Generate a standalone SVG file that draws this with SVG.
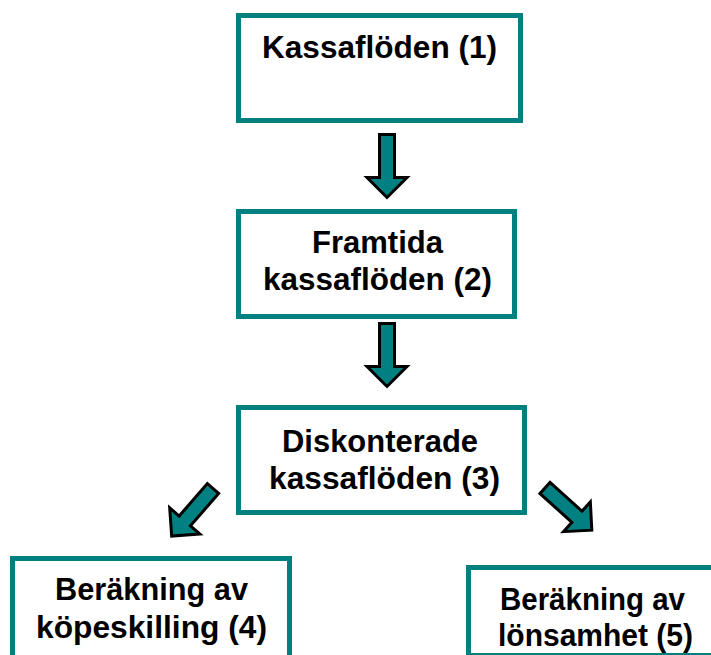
<svg xmlns="http://www.w3.org/2000/svg" width="711" height="655" viewBox="0 0 711 655">
<style>
.box{fill:#fff;stroke:#008080;stroke-width:5}
.t{font-family:"Liberation Sans",Arial,sans-serif;font-weight:bold;font-size:32px;fill:#000;text-anchor:middle}
.arr{fill:#008080;stroke:#000;stroke-width:3;stroke-linejoin:miter}
</style>
<defs>
<path id="ar" d="M-7.5,0 H7.5 V43 H20 L0,63 L-20,43 H-7.5 Z"/>
</defs>
<rect width="711" height="655" fill="#fff"/>
<g id="connectors">
<use href="#ar" class="arr" transform="translate(387,134.5)"/>
<use href="#ar" class="arr" transform="translate(387,323.5)"/>
<use href="#ar" class="arr" transform="translate(213,488.5) rotate(41)"/>
<use href="#ar" class="arr" transform="translate(545,488) rotate(-48)"/>
</g>
<g id="node1">
<rect class="box" x="238.5" y="15.5" width="282" height="105"/>
<text class="t" x="379.5" y="58" textLength="235" lengthAdjust="spacingAndGlyphs">Kassaflöden (1)</text>
</g>
<g id="node2">
<rect class="box" x="238.5" y="211.5" width="276" height="105"/>
<text class="t" x="377.5" y="253" textLength="131" lengthAdjust="spacingAndGlyphs">Framtida</text>
<text class="t" x="377.5" y="290" textLength="229" lengthAdjust="spacingAndGlyphs">kassaflöden (2)</text>
</g>
<g id="node3">
<rect class="box" x="238.5" y="407.5" width="286" height="105"/>
<text class="t" x="380" y="452" textLength="196" lengthAdjust="spacingAndGlyphs">Diskonterade</text>
<text class="t" x="384.5" y="489" textLength="231" lengthAdjust="spacingAndGlyphs">kassaflöden (3)</text>
</g>
<g id="node4">
<rect class="box" x="12.5" y="558.5" width="277" height="120"/>
<text class="t" x="151.5" y="600" textLength="193" lengthAdjust="spacingAndGlyphs">Beräkning av</text>
<text class="t" x="151.5" y="638" textLength="231" lengthAdjust="spacingAndGlyphs">köpeskilling (4)</text>
</g>
<g id="node5">
<rect class="box" x="468.5" y="567.5" width="260" height="88"/>
<text class="t" x="592.5" y="610" textLength="185" lengthAdjust="spacingAndGlyphs">Beräkning av</text>
<text class="t" x="595.5" y="646" textLength="195" lengthAdjust="spacingAndGlyphs">lönsamhet (5)</text>
</g>
</svg>
